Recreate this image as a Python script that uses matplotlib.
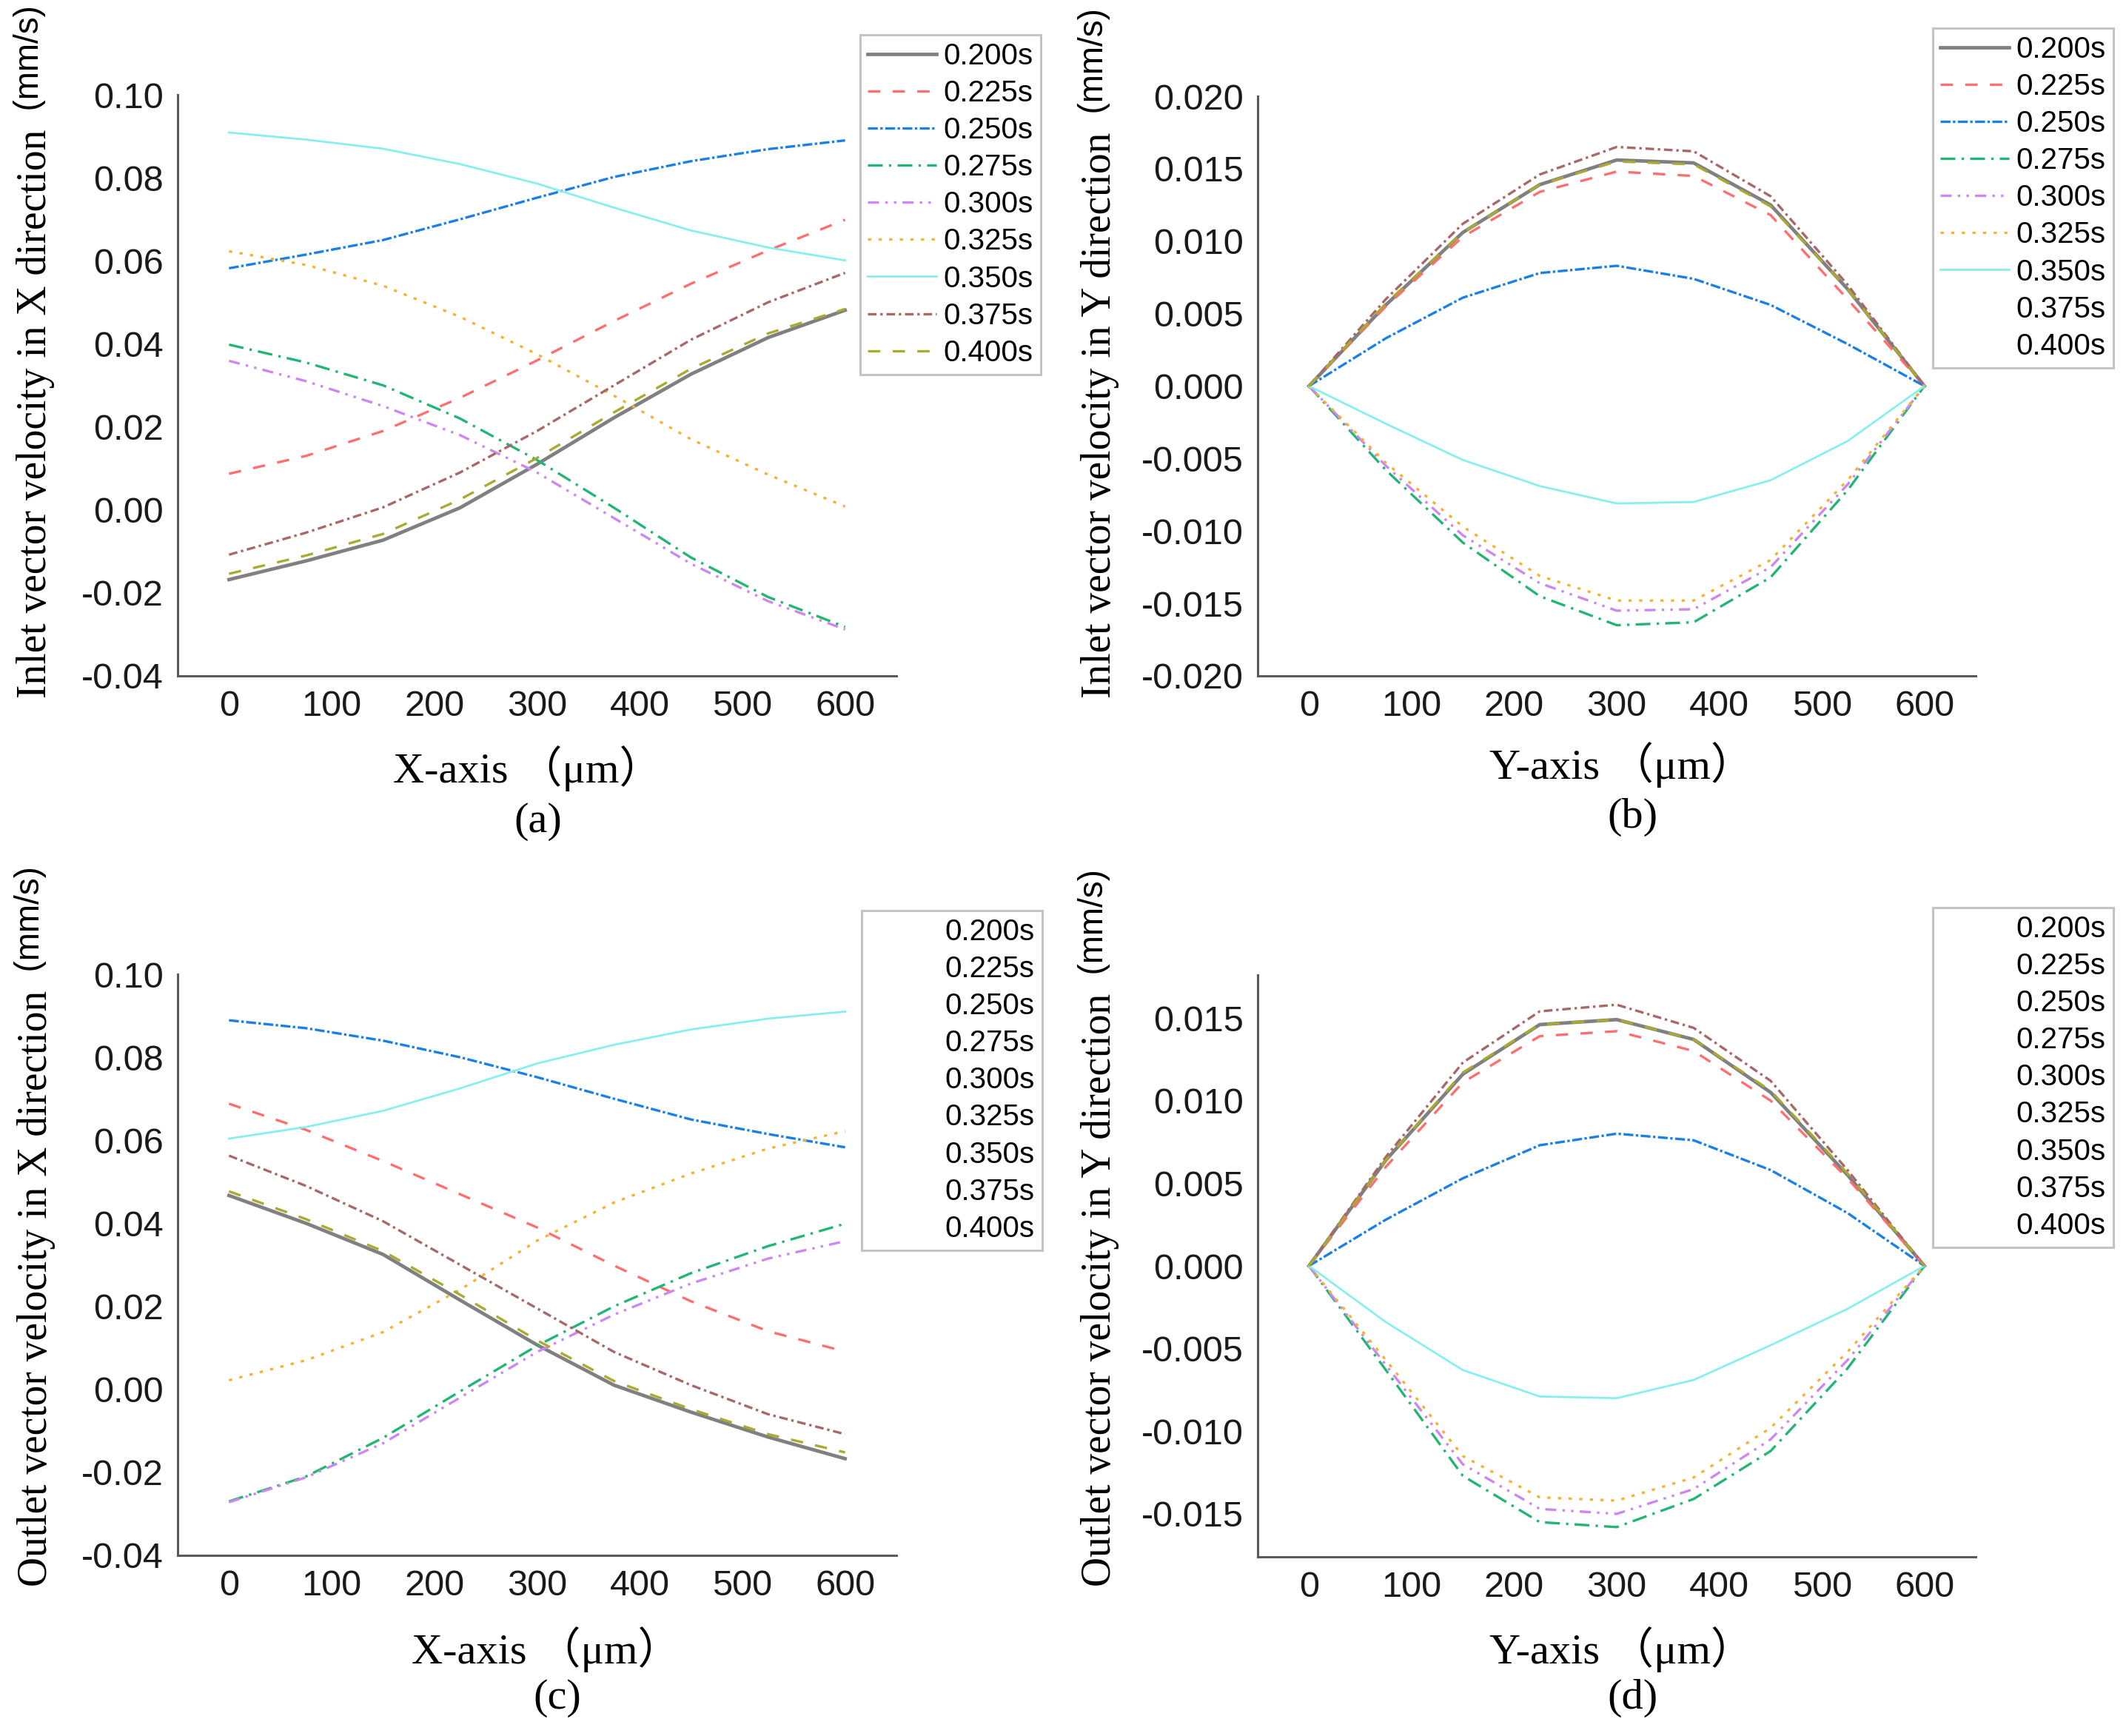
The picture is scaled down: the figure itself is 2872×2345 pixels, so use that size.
import matplotlib
matplotlib.use("Agg")
import matplotlib.pyplot as plt
from matplotlib.ticker import FormatStrFormatter

# ======= data =======
X_POS = [0, 75, 150, 225, 300, 375, 450, 525, 600]  # μm
LABELS = ["0.200s", "0.225s", "0.250s", "0.275s", "0.300s",
          "0.325s", "0.350s", "0.375s", "0.400s"]

# (a) inlet, X direction
INLET_X = [
    [-0.0168, -0.0123, -0.0073, 0.0005, 0.0110, 0.0222, 0.0327, 0.0415, 0.0481],
    [0.0087, 0.0130, 0.0190, 0.0270, 0.0360, 0.0455, 0.0545, 0.0625, 0.0699],
    [0.0582, 0.0615, 0.0650, 0.0700, 0.0752, 0.0802, 0.0840, 0.0869, 0.0890],
    [0.0398, 0.0355, 0.0300, 0.0220, 0.0120, 0.0005, -0.0115, -0.0210, -0.0282],
    [0.0359, 0.0310, 0.0250, 0.0180, 0.0090, -0.0020, -0.0130, -0.0220, -0.0288],
    [0.0623, 0.0590, 0.0540, 0.0465, 0.0375, 0.0275, 0.0170, 0.0085, 0.0008],
    [0.0909, 0.0892, 0.0870, 0.0833, 0.0786, 0.0728, 0.0673, 0.0632, 0.0601],
    [-0.0108, -0.0055, 0.0006, 0.0090, 0.0190, 0.0300, 0.0410, 0.0500, 0.0571],
    [-0.0154, -0.0110, -0.0058, 0.0025, 0.0125, 0.0235, 0.0340, 0.0425, 0.0484],
]

# (b) inlet, Y direction
INLET_Y = [
    [0, 0.0056, 0.0106, 0.0139, 0.0156, 0.0154, 0.0125, 0.0067, 0],
    [0, 0.0055, 0.0103, 0.0134, 0.0148, 0.0145, 0.0118, 0.0060, 0],
    [0, 0.0033, 0.0061, 0.0078, 0.0083, 0.0074, 0.0056, 0.0029, 0],
    [0, -0.0058, -0.0108, -0.0145, -0.0165, -0.0163, -0.0132, -0.0072, 0],
    [0, -0.0055, -0.0103, -0.0136, -0.0155, -0.0154, -0.0125, -0.0068, 0],
    [0, -0.0053, -0.0097, -0.0131, -0.0148, -0.0148, -0.0120, -0.0065, 0],
    [0, -0.0026, -0.0051, -0.0069, -0.0081, -0.0080, -0.0065, -0.0038, 0],
    [0, 0.0060, 0.0112, 0.0146, 0.0165, 0.0162, 0.0131, 0.0070, 0],
    [0, 0.0057, 0.0106, 0.0139, 0.0155, 0.0153, 0.0124, 0.0067, 0],
]

# (c) outlet, X direction
OUTLET_X = [
    [0.0467, 0.0400, 0.0325, 0.0215, 0.0107, 0.0010, -0.0055, -0.0115, -0.0167],
    [0.0688, 0.0625, 0.0550, 0.0470, 0.0390, 0.0298, 0.0212, 0.0140, 0.0091],
    [0.0889, 0.0870, 0.0840, 0.0800, 0.0752, 0.0700, 0.0650, 0.0615, 0.0583],
    [-0.0270, -0.0210, -0.0117, -0.0005, 0.0105, 0.0200, 0.0280, 0.0345, 0.0399],
    [-0.0272, -0.0212, -0.0130, -0.0020, 0.0090, 0.0180, 0.0255, 0.0315, 0.0357],
    [0.0022, 0.0070, 0.0138, 0.0240, 0.0358, 0.0450, 0.0520, 0.0580, 0.0622],
    [0.0604, 0.0632, 0.0671, 0.0725, 0.0785, 0.0830, 0.0867, 0.0893, 0.0910],
    [0.0563, 0.0490, 0.0405, 0.0300, 0.0195, 0.0090, 0.0010, -0.0060, -0.0108],
    [0.0477, 0.0410, 0.0333, 0.0228, 0.0118, 0.0020, -0.0048, -0.0108, -0.0152],
]

# (d) outlet, Y direction
OUTLET_Y = [
    [0, 0.0064, 0.0116, 0.0146, 0.0149, 0.0137, 0.0105, 0.0055, 0],
    [0, 0.0060, 0.0111, 0.0139, 0.0142, 0.0130, 0.0100, 0.0053, 0],
    [0, 0.0028, 0.0053, 0.0073, 0.0080, 0.0076, 0.0058, 0.0032, 0],
    [0, -0.0063, -0.0127, -0.0155, -0.0158, -0.0141, -0.0112, -0.0062, 0],
    [0, -0.0060, -0.0120, -0.0147, -0.0150, -0.0135, -0.0105, -0.0057, 0],
    [0, -0.0057, -0.0115, -0.0140, -0.0142, -0.0128, -0.0098, -0.0052, 0],
    [0, -0.0034, -0.0063, -0.0079, -0.0080, -0.0069, -0.0048, -0.0026, 0],
    [0, 0.0066, 0.0123, 0.0154, 0.0158, 0.0144, 0.0112, 0.0058, 0],
    [0, 0.0064, 0.0117, 0.0146, 0.0149, 0.0137, 0.0106, 0.0056, 0],
]

X_TICKS = [0, 100, 200, 300, 400, 500, 600]
YTICKS_X = [-0.04, -0.02, 0.00, 0.02, 0.04, 0.06, 0.08, 0.10]
YTICKS_Y = [-0.020, -0.015, -0.010, -0.005, 0.000, 0.005, 0.010, 0.015, 0.020]
YTICKS_Y_OUT = [-0.015, -0.010, -0.005, 0.000, 0.005, 0.010, 0.015]

# ======= styles =======
COLORS = ["#808080", "#ff6f6f", "#1a80e6", "#22b573", "#cc88ee",
          "#f5b335", "#88eeee", "#a86868", "#aaaa30"]
STYLES = ["-", (0, (5, 5)), (0, (4, 1, 1, 1)), (0, (6, 2.5, 1, 2.5)),
          (0, (4.5, 2.5, 1, 2.5, 1, 2.5)), (0, (1.3, 3)), "-",
          (0, (3.5, 1.5, 1, 1.5)), (0, (5, 5))]
WIDTHS = [3.4, 2.4, 2.4, 2.4, 2.4, 2.4, 2.0, 2.4, 2.4]

W, H = 2872, 2345
SERIF = ["Liberation Serif", "Noto Sans CJK SC"]
UNIT_FONT = ["Liberation Sans", "DejaVu Sans"]
TICK_FS = 35
XLABEL_FS = 42
YLABEL_FS = 40
UNIT_FS = 33
LEG_FS = 29

plt.rcParams["font.family"] = ["Liberation Sans", "DejaVu Sans"]
plt.rcParams["axes.unicode_minus"] = False

fig = plt.figure(figsize=(W / 100, H / 100), dpi=100)

# box l,t,r,b (px), data, ylim, yticks, fmt, legend top-left (px), hidden handles,
# y-label, x-label, x-label pos, caption pos, y-label start (baseline x, bottom y), caption
PANELS = [
    ((240, 128, 1211, 913), INLET_X, (-0.04, 0.10), YTICKS_X, "%.2f", (1162, 47), [],
     "Inlet vector velocity in X direction", "X-axis （μm）", (713, 1038), (727, 1110), (62, 943), "(a)"),
    ((1699, 130, 2669, 913), INLET_Y, (-0.02, 0.02), YTICKS_Y, "%.3f", (2611, 38), [7, 8],
     "Inlet vector velocity in Y direction", "Y-axis （μm）", (2191, 1033), (2205, 1104), (1500, 943), "(b)"),
    ((240, 1316, 1211, 2101), OUTLET_X, (-0.04, 0.10), YTICKS_X, "%.2f", (1164, 1230), list(range(9)),
     "Outlet vector velocity in X direction", "X-axis （μm）", (738, 2228), (753, 2294), (63, 2143), "(c)"),
    ((1699, 1317, 2669, 2103), OUTLET_Y, (-0.0176, 0.0176), YTICKS_Y_OUT, "%.3f", (2611, 1226), list(range(9)),
     "Outlet vector velocity in Y direction", "Y-axis （μm）", (2191, 2228), (2205, 2294), (1500, 2143), "(d)"),
]

renderer = fig.canvas.get_renderer()

for (box, data, ylim, yticks, fmt, legpos, hidden, ylab, xlab, xlab_pos,
     cap_pos, ylab_pos, cap) in PANELS:
    l, t, r, b = box
    ax = fig.add_axes([l / W, 1 - b / H, (r - l) / W, (b - t) / H])
    for vals, lab, c, ls, lw in zip(data, LABELS, COLORS, STYLES, WIDTHS):
        ax.plot(X_POS, vals, color=c, linestyle=ls, linewidth=lw, label=lab)
    ax.set_xlim(-50, 650)
    ax.set_ylim(*ylim)
    ax.set_xticks(X_TICKS)
    ax.set_yticks(yticks)
    ax.yaxis.set_major_formatter(FormatStrFormatter(fmt))
    for s in ("top", "right"):
        ax.spines[s].set_visible(False)
    for s in ("left", "bottom"):
        ax.spines[s].set_color("#5a5a5a")
        ax.spines[s].set_linewidth(2.2)
    ax.tick_params(length=0, labelsize=TICK_FS, pad=14, labelcolor="#1a1a1a")

    leg = ax.legend(loc="upper left", bbox_to_anchor=(legpos[0] / W, 1 - legpos[1] / H),
                    bbox_transform=fig.transFigure, borderaxespad=0, fontsize=LEG_FS,
                    frameon=True, fancybox=False, edgecolor="#c4c4c4", framealpha=1,
                    borderpad=0.25, labelspacing=0.3, handlelength=2.3, handletextpad=0.25)
    leg.get_frame().set_linewidth(2.2)
    for i in hidden:
        leg.legend_handles[i].set_visible(False)

    fig.text(xlab_pos[0] / W, 1 - xlab_pos[1] / H, xlab, ha="center", va="center",
             fontsize=XLABEL_FS, family=SERIF)
    fig.text(cap_pos[0] / W, 1 - cap_pos[1] / H, cap, ha="center", va="center",
             fontsize=XLABEL_FS, family=SERIF)

    # y-label: serif text, then the unit in a sans face just after it
    bx, by = ylab_pos
    t1 = fig.text(bx / W, 1 - by / H, ylab, rotation=90, rotation_mode="anchor",
                  ha="left", va="baseline", fontsize=YLABEL_FS, family=SERIF)
    h1 = t1.get_window_extent(renderer).height
    fig.text((bx - 10) / W, 1 - by / H + h1 / H, "  (mm/s)", rotation=90,
             rotation_mode="anchor", ha="left", va="baseline",
             fontsize=UNIT_FS, family=UNIT_FONT)

fig.savefig("out.png", dpi=100)
